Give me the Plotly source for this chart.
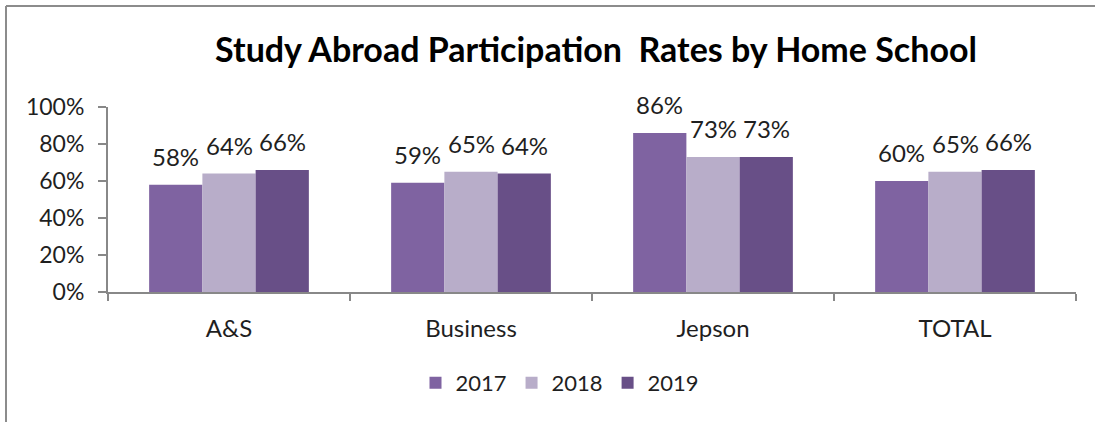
import plotly.graph_objects as go

schools = ["A&S", "Business", "Jepson", "TOTAL"]
years = ["2017", "2018", "2019"]
rates_2017 = [0.58, 0.59, 0.86, 0.60]
rates_2018 = [0.64, 0.65, 0.73, 0.65]
rates_2019 = [0.66, 0.64, 0.73, 0.66]
y_ticks = [0, 0.2, 0.4, 0.6, 0.8, 1.0]

_COLORS = ["#7F63A1", "#B8ADC9", "#684F87"]
_AXIS = "#888888"
_TEXT = "#1f1f1f"
_FONT = "Lato, sans-serif"

series = [rates_2017, rates_2018, rates_2019]

fig = go.Figure()
for name, vals, color in zip(years, series, _COLORS):
    fig.add_trace(
        go.Bar(
            x=schools,
            y=vals,
            name=name,
            marker=dict(color=color, line=dict(width=0)),
        )
    )

# data labels above each bar, offset like the Excel ones
bar_px = 53.5
for i, vals in enumerate(series):
    for school, v in zip(schools, vals):
        fig.add_annotation(
            x=school,
            y=v,
            xref="x",
            yref="y",
            text=f"{v:.0%}",
            showarrow=False,
            xshift=(i - 1) * bar_px,
            yanchor="bottom",
            yshift=12,
            font=dict(size=24, color=_TEXT, family=_FONT),
        )

# outer frame (top and left edges visible in the reference)
px_w, py_h = 968, 185
def px(xp):
    return (xp - 108) / px_w
def py(yp):
    return (292 - yp) / py_h

fig.add_shape(type="line", xref="paper", yref="paper",
              x0=px(6), y0=py(6), x1=px(1095), y1=py(6),
              line=dict(color="#8c8c8c", width=2))
fig.add_shape(type="line", xref="paper", yref="paper",
              x0=px(6), y0=py(6), x1=px(6), y1=py(422),
              line=dict(color="#8c8c8c", width=2))

fig.update_layout(
    width=1095,
    height=422,
    margin=dict(l=108, r=19, t=107, b=130),
    paper_bgcolor="white",
    plot_bgcolor="white",
    barmode="group",
    bargap=0.34,
    bargroupgap=0,
    font=dict(family=_FONT, color=_TEXT, size=24),
    title=dict(
        text="<b>Study Abroad Participation  Rates by Home School</b>",
        x=596 / 1095,
        xanchor="center",
        y=1 - 50 / 422,
        yanchor="middle",
        font=dict(size=34, color="#000000", family=_FONT),
    ),
    legend=dict(
        orientation="h",
        x=px(560),
        xanchor="center",
        y=py(383),
        yanchor="middle",
        font=dict(size=22, color=_TEXT),
        itemwidth=30,
        bgcolor="rgba(0,0,0,0)",
    ),
    xaxis=dict(
        showgrid=False,
        showline=True,
        linecolor=_AXIS,
        linewidth=2,
        ticks="outside",
        tickson="boundaries",
        ticklen=7,
        tickwidth=2,
        tickcolor=_AXIS,
        ticklabelstandoff=14,
        tickfont=dict(size=24, color=_TEXT),
    ),
    yaxis=dict(
        range=[0, 1],
        tickvals=y_ticks,
        tickformat=".0%",
        showgrid=False,
        zeroline=False,
        showline=True,
        linecolor=_AXIS,
        linewidth=2,
        ticks="outside",
        ticklen=8,
        tickwidth=2,
        tickcolor=_AXIS,
        ticklabelstandoff=9,
        tickfont=dict(size=23, color=_TEXT),
    ),
)

fig.write_html(
    "out.html",
    config={"displayModeBar": False},
    post_script="document.body.style.margin='0';",
)
